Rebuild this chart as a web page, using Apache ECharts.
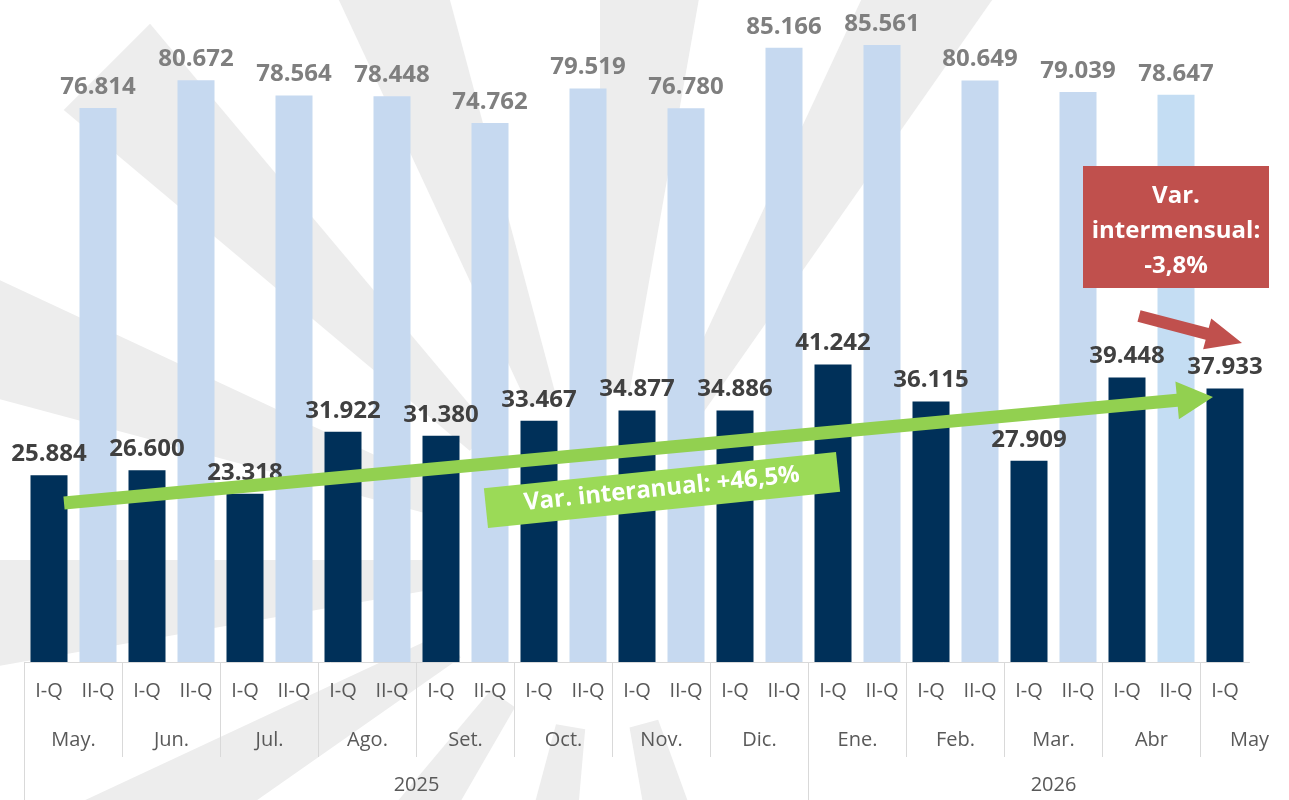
<!DOCTYPE html>
<html>
<head>
<meta charset="utf-8">
<script src="https://cdn.jsdelivr.net/npm/echarts@6/dist/echarts.min.js"></script>
<style>
html, body { margin: 0; padding: 0; background: #fff; }
#chart { width: 1289px; height: 800px; }
</style>
</head>
<body>
<div id="chart"></div>
<script>
// quincenas (eje inferior)
var quincenas = ['I-Q', 'II-Q', 'I-Q', 'II-Q', 'I-Q', 'II-Q', 'I-Q', 'II-Q', 'I-Q', 'II-Q',
    'I-Q', 'II-Q', 'I-Q', 'II-Q', 'I-Q', 'II-Q', 'I-Q', 'II-Q', 'I-Q', 'II-Q',
    'I-Q', 'II-Q', 'I-Q', 'II-Q', 'I-Q'];
var meses = ['May.', 'Jun.', 'Jul.', 'Ago.', 'Set.', 'Oct.', 'Nov.', 'Dic.', 'Ene.', 'Feb.', 'Mar.', 'Abr', 'May'];
var anios = ['2025', '2026'];
// valores por quincena
var primeraQ = [25.884, 26.600, 23.318, 31.922, 31.380, 33.467, 34.877, 34.886, 41.242, 36.115, 27.909, 39.448, 37.933];
var segundaQ = [76.814, 80.672, 78.564, 78.448, 74.762, 79.519, 76.780, 85.166, 85.561, 80.649, 79.039, 78.647];

var myChart = echarts.init(document.getElementById('chart'));

var iqData = [], iiqData = [];
for (var i = 0; i < quincenas.length; i++) {
    if (i % 2 === 0) {
        iqData.push(primeraQ[i / 2]);
        iiqData.push('-');
    } else {
        iqData.push('-');
        var v = segundaQ[(i - 1) / 2];
        // la ultima II-Q (Abr) tiene un tono algo distinto
        if (i === 23) {
            iiqData.push({ value: v, itemStyle: { color: '#C4DDF3' } });
        } else {
            iiqData.push(v);
        }
    }
}

// flecha como poligono
function arrow(x1, y1, x2, y2, sw, hl, hw) {
    var dx = x2 - x1, dy = y2 - y1;
    var L = Math.sqrt(dx * dx + dy * dy);
    var ux = dx / L, uy = dy / L, nx = -uy, ny = ux;
    var bx = x2 - ux * hl, by = y2 - uy * hl;
    return [
        [x1 + nx * sw / 2, y1 + ny * sw / 2],
        [bx + nx * sw / 2, by + ny * sw / 2],
        [bx + nx * hw / 2, by + ny * hw / 2],
        [x2, y2],
        [bx - nx * hw / 2, by - ny * hw / 2],
        [bx - nx * sw / 2, by - ny * sw / 2],
        [x1 - nx * sw / 2, y1 - ny * sw / 2]
    ];
}

// marca de agua (rayos grises, sobre todo a la izquierda)
var marca = [];
var cx = 600, cy = 560;
var angulos = [70, 95, 120, 145, 170, 195, 220, 245, 270, 295];
for (var k = 0; k < angulos.length; k++) {
    var a1 = angulos[k] * Math.PI / 180;
    var a2 = a1 + 10 * Math.PI / 180;
    marca.push({
        type: 'polygon',
        z: -10,
        silent: true,
        shape: {
            points: [
                [cx + 170 * Math.cos(a1), cy + 170 * Math.sin(a1)],
                [cx + 700 * Math.cos(a1), cy + 700 * Math.sin(a1)],
                [cx + 700 * Math.cos(a2), cy + 700 * Math.sin(a2)],
                [cx + 170 * Math.cos(a2), cy + 170 * Math.sin(a2)]
            ]
        },
        style: { fill: '#EDEDED' }
    });
}

var fuente = 'Open Sans';

option = {
    animation: false,
    backgroundColor: '#fff',
    grid: { left: 24.5, right: 39.5, top: 13, bottom: 138 },
    xAxis: [{
        type: 'category',
        data: quincenas,
        axisLine: { lineStyle: { color: '#D9D9D9', width: 1 } },
        axisTick: { show: false },
        axisLabel: { color: '#595959', fontSize: 20, fontFamily: fuente, margin: 19, interval: 0 }
    }, {
        type: 'value',
        min: 0, max: 25,
        position: 'bottom',
        axisLine: { show: false },
        splitLine: { show: false },
        axisTick: {
            show: true, inside: false, length: 95,
            customValues: [0, 2, 4, 6, 8, 10, 12, 14, 16, 18, 20, 22, 24],
            lineStyle: { color: '#D9D9D9' }
        },
        axisLabel: {
            color: '#595959', fontSize: 20, fontFamily: fuente, margin: 68,
            customValues: [1, 3, 5, 7, 9, 11, 13, 15, 17, 19, 21, 23, 25],
            formatter: function (v) { return meses[Math.round((v - 1) / 2)]; }
        }
    }, {
        type: 'value',
        min: 0, max: 25,
        position: 'bottom',
        axisLine: { show: false },
        splitLine: { show: false },
        axisTick: {
            show: true, inside: false, length: 140,
            customValues: [0, 16],
            lineStyle: { color: '#D9D9D9' }
        },
        axisLabel: {
            color: '#595959', fontSize: 20, fontFamily: fuente, margin: 113,
            customValues: [8, 21],
            formatter: function (v) { return v < 16 ? anios[0] : anios[1]; }
        }
    }],
    yAxis: { type: 'value', min: 0, max: 90, show: false },
    series: [{
        name: 'I-Q',
        type: 'bar',
        data: iqData,
        barWidth: 37,
        barGap: '-100%',
        itemStyle: { color: '#003059' },
        label: {
            show: true, position: 'top', distance: 9,
            color: '#404040', fontSize: 24, fontWeight: 'bold', fontFamily: fuente,
            formatter: function (p) { return p.value.toFixed(3); }
        }
    }, {
        name: 'II-Q',
        type: 'bar',
        data: iiqData,
        barWidth: 37,
        itemStyle: { color: '#C6D9F0' },
        label: {
            show: true, position: 'top', distance: 9,
            color: '#7F7F7F', fontSize: 24, fontWeight: 'bold', fontFamily: fuente,
            formatter: function (p) { return (typeof p.value === 'number' ? p.value : p.data.value).toFixed(3); }
        }
    }],
    graphic: marca.concat([{
        // flecha verde interanual
        type: 'polygon',
        z: 100,
        shape: { points: arrow(64, 503, 1213, 397, 13, 36, 38) },
        style: { fill: '#92D050' }
    }, {
        type: 'group',
        x: 662, y: 490,
        rotation: 5.9 * Math.PI / 180,
        z: 101,
        children: [{
            type: 'rect',
            z: 101,
            shape: { x: -177, y: -20, width: 354, height: 40 },
            style: { fill: '#9BDA57' }
        }, {
            type: 'text',
            z: 102,
            style: {
                text: 'Var. interanual: +46,5%',
                x: 0, y: -1,
                align: 'center', verticalAlign: 'middle',
                fill: '#fff', fontSize: 24, fontWeight: 'bold', fontFamily: fuente
            }
        }]
    }, {
        // caja roja intermensual
        type: 'rect',
        z: 100,
        shape: { x: 1083, y: 166, width: 186, height: 122 },
        style: { fill: '#C0504D' }
    }, {
        type: 'text',
        z: 101,
        style: {
            text: 'Var.\nintermensual:\n-3,8%',
            x: 1176, y: 231,
            align: 'center', verticalAlign: 'middle',
            lineHeight: 35,
            fill: '#fff', fontSize: 24, fontWeight: 'bold', fontFamily: fuente
        }
    }, {
        type: 'polygon',
        z: 100,
        shape: { points: arrow(1139, 316, 1242, 343, 12, 36, 32) },
        style: { fill: '#C0504D' }
    }])
};

myChart.setOption(option);
</script>
</body>
</html>
